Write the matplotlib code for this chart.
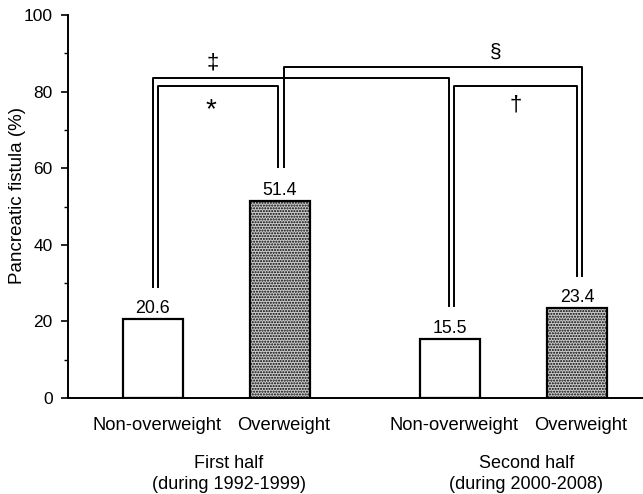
import matplotlib
matplotlib.use("Agg")
import matplotlib.pyplot as plt

plt.rcParams['font.family'] = ['Liberation Sans', 'DejaVu Sans']

# data
groups = ["First half\n(during 1992-1999)", "Second half\n(during 2000-2008)"]
bar_labels = ["Non-overweight", "Overweight", "Non-overweight", "Overweight"]
fistula = [20.6, 51.4, 15.5, 23.4]
stippled = [False, True, False, True]

# significance brackets: (left bar, right bar, top, left leg end, right leg end, symbol)
brackets = [
    (0, 1, 81.5, 29.0, 60.4, "*"),
    (0, 2, 83.6, 29.0, 24.0, "\u2021"),
    (1, 3, 86.5, 60.4, 31.8, "\u00a7"),
    (2, 3, 81.5, 24.0, 31.8, "\u2020"),
]

xpos = [0, 1, 2.34, 3.34]
group_x = [0.6, 2.94]
# leg offsets (x) for each bracket end, and where the symbol goes
leg_dx = [(0.04, -0.01), (0.0, -0.01), (0.03, 0.04), (0.03, 0.0)]
sym_pos = [(0.46, 75.2), (0.47, 87.6), (2.70, 90.2), (2.86, 76.5)]
sym_size = [20, 16, 15, 16]

fig = plt.figure(figsize=(6.43, 4.94), dpi=100)
ax = fig.add_axes([0.1058, 0.1943, 0.8942, 0.7753])

for i in range(len(fistula)):
    if stippled[i]:
        ax.bar(xpos[i], fistula[i], width=0.47, color='#cccccc', edgecolor='black',
               linewidth=1.6, hatch='......', zorder=2)
    else:
        ax.bar(xpos[i], fistula[i], width=0.47, color='white', edgecolor='black',
               linewidth=1.6, zorder=2)
    ax.text(xpos[i], fistula[i] + 0.5, f"{fistula[i]:.1f}", ha='center', va='bottom', fontsize=12.8)

for k, (a, b, top, ya, yb, sym) in enumerate(brackets):
    xa = xpos[a] + leg_dx[k][0]
    xb = xpos[b] + leg_dx[k][1]
    ax.plot([xa, xa, xb, xb], [ya, top, top, yb], color='black', lw=1.4, zorder=3)
    ax.text(sym_pos[k][0], sym_pos[k][1], sym, ha='center', va='center', fontsize=sym_size[k])

ax.set_xlim(-0.667, 3.86)
ax.set_ylim(0, 100)
ax.set_yticks(range(0, 101, 20))
ax.set_yticks(range(10, 100, 20), minor=True)
ax.tick_params(axis='y', which='major', labelsize=12.5, length=5, width=1.2, pad=6)
ax.tick_params(axis='y', which='minor', length=3, width=1.0)
ax.set_ylabel("Pancreatic fistula (%)", fontsize=13.5)
ax.yaxis.set_label_coords(-0.073, 0.53)

ax.set_xticks([x + 0.03 for x in xpos])
ax.set_xticklabels(bar_labels, fontsize=13.2)
ax.tick_params(axis='x', length=0, pad=14)

for gx, g in zip(group_x, groups):
    ax.text(gx, -15.0, g, ha='center', va='top', fontsize=13, linespacing=1.3)

ax.spines['top'].set_visible(False)
ax.spines['right'].set_visible(False)
ax.spines['left'].set_linewidth(1.4)
ax.spines['bottom'].set_linewidth(1.4)

fig.savefig("out.png", dpi=100)
